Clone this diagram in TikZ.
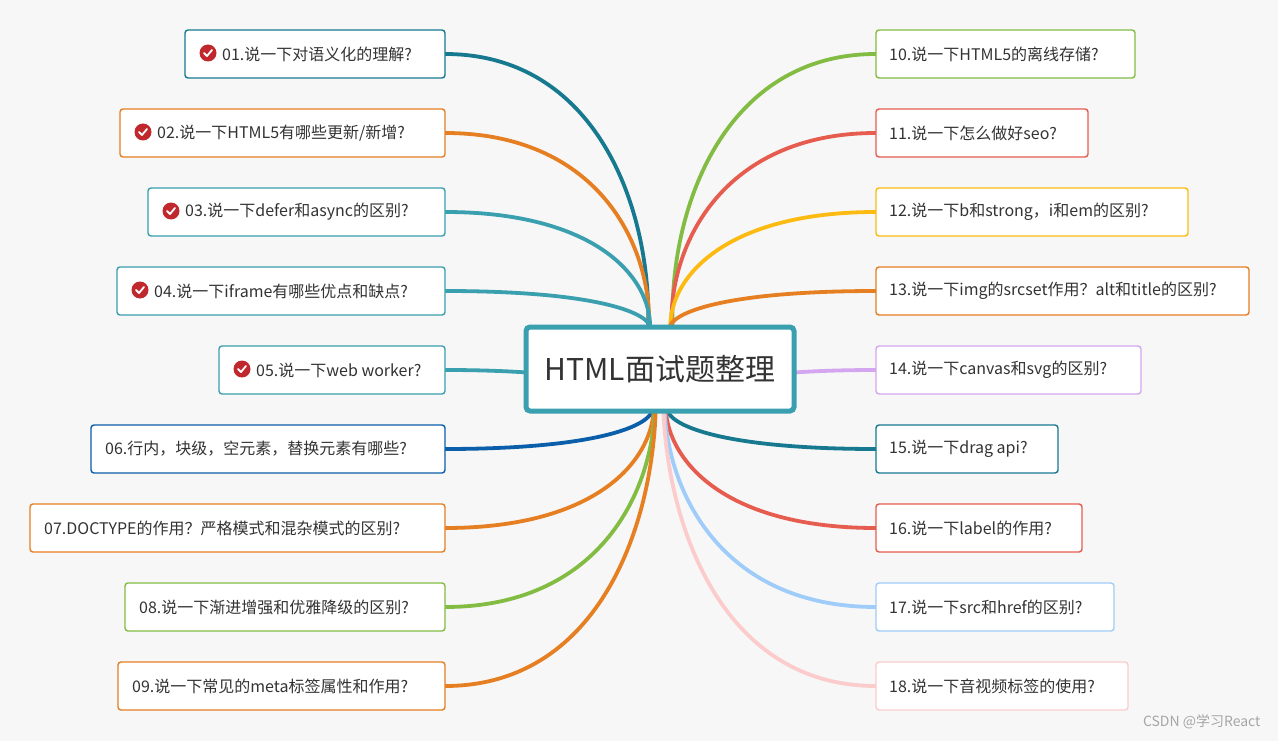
\documentclass[tikz,border=0pt]{standalone}
\usepackage{fontspec}
\setmainfont{Noto Sans CJK SC}
\begin{document}
\begin{tikzpicture}[x=1pt,y=-1pt,
  box/.style={draw=#1,line width=1.4pt,rounded corners=3pt,fill=white},
  lbl/.style={anchor=west,inner sep=0pt,font=\fontsize{16}{18}\selectfont,text=black!80},
  br/.style={line width=3.8pt,draw=#1}]
\definecolor{cteal}{HTML}{17798F}
\definecolor{cora}{HTML}{E67E22}
\definecolor{clt}{HTML}{3A9FAE}
\definecolor{cblue}{HTML}{0A5EAA}
\definecolor{cgreen}{HTML}{82BC43}
\definecolor{cred}{HTML}{E65C4F}
\definecolor{cyel}{HTML}{FDBB12}
\definecolor{cpur}{HTML}{D5A6F0}
\definecolor{clb}{HTML}{9FCCF8}
\definecolor{cpink}{HTML}{FCCCCC}
\definecolor{cchk}{HTML}{C0282D}
\fill[black!3] (0,0) rectangle (1278,741);
\useasboundingbox (0,0) rectangle (1278,741);
\coordinate (hc) at (660,369);
\foreach \n/\l/\r/\y/\c/\k/\t in {
 L1/185/445/54/cteal/1/{01.说一下对语义化的理解?},
 L2/120/445/133/cora/1/{02.说一下HTML5有哪些更新/新增?},
 L3/148/445/212/clt/1/{03.说一下defer和async的区别?},
 L4/117/445/291/clt/1/{04.说一下iframe有哪些优点和缺点?},
 L5/219/445/370/clt/1/{05.说一下web worker?},
 L6/91/445/449/cblue/0/{06.行内，块级，空元素，替换元素有哪些?},
 L7/30/445/528/cora/0/{07.DOCTYPE的作用？严格模式和混杂模式的区别?},
 L8/125/445/607/cgreen/0/{08.说一下渐进增强和优雅降级的区别?},
 L9/118/445/686/cora/0/{09.说一下常见的meta标签属性和作用?}}{
  \pgfmathsetmacro\yy{\y<369 ? 330 : (\y>369 ? 408 : 369)}
  \pgfmathsetmacro\xx{\y==369 ? 524 : 652+(\y-369)*0.012}
  \coordinate (e\n) at (\xx,\yy);
  \draw[br=\c] (445,\y) .. controls (595,\y) and (652,{\yy+(\y-\yy)*0.45}) .. (e\n);
  \draw[box=\c] (\l,\y-24) rectangle (\r,\y+24);
  \ifnum\k=1
   \fill[cchk] (\l+23,\y-1) circle (8.5);
   \draw[white,line width=1.8pt,line cap=round,line join=round] (\l+19,\y-1) -- (\l+22,\y+2) -- (\l+27,\y-4);
   \node[lbl] (\n) at (\l+37,\y) {\t};
  \else
   \node[lbl] (\n) at (\l+14,\y) {\t};
  \fi
}
\foreach \n/\l/\r/\y/\c/\t in {
 R1/876/1135/54/cgreen/{10.说一下HTML5的离线存储?},
 R2/876/1088/133/cred/{11.说一下怎么做好seo?},
 R3/876/1188/212/cyel/{12.说一下b和strong，i和em的区别?},
 R4/876/1249/291/cora/{13.说一下img的srcset作用？alt和title的区别?},
 R5/876/1141/370/cpur/{14.说一下canvas和svg的区别?},
 R6/876/1058/449/cteal/{15.说一下drag api?},
 R7/876/1082/528/cred/{16.说一下label的作用?},
 R8/876/1114/607/clb/{17.说一下src和href的区别?},
 R9/876/1128/686/cpink/{18.说一下音视频标签的使用?}}{
  \pgfmathsetmacro\yy{\y<369 ? 330 : (\y>369 ? 408 : 369)}
  \pgfmathsetmacro\xx{\y==369 ? 797 : 668+(369-\y)*0.015}
  \coordinate (e\n) at (\xx,\yy);
  \draw[br=\c] (876,\y) .. controls (726,\y) and (668,{\yy+(\y-\yy)*0.45}) .. (e\n);
  \draw[box=\c] (\l,\y-24) rectangle (\r,\y+24);
  \node[lbl] (\n) at (\l+13,\y) {\t};
}
\node[draw=clt,line width=5pt,rounded corners=4pt,fill=white,minimum width=268pt,minimum height=84pt,font=\fontsize{30}{34}\selectfont,text=black!80] (hub) at (hc) {HTML面试题整理};
\node[anchor=east,font=\fontsize{14}{16}\selectfont,text=black!35] (wm) at (1264,722) {CSDN @学习React};
\end{tikzpicture}
\end{document}
